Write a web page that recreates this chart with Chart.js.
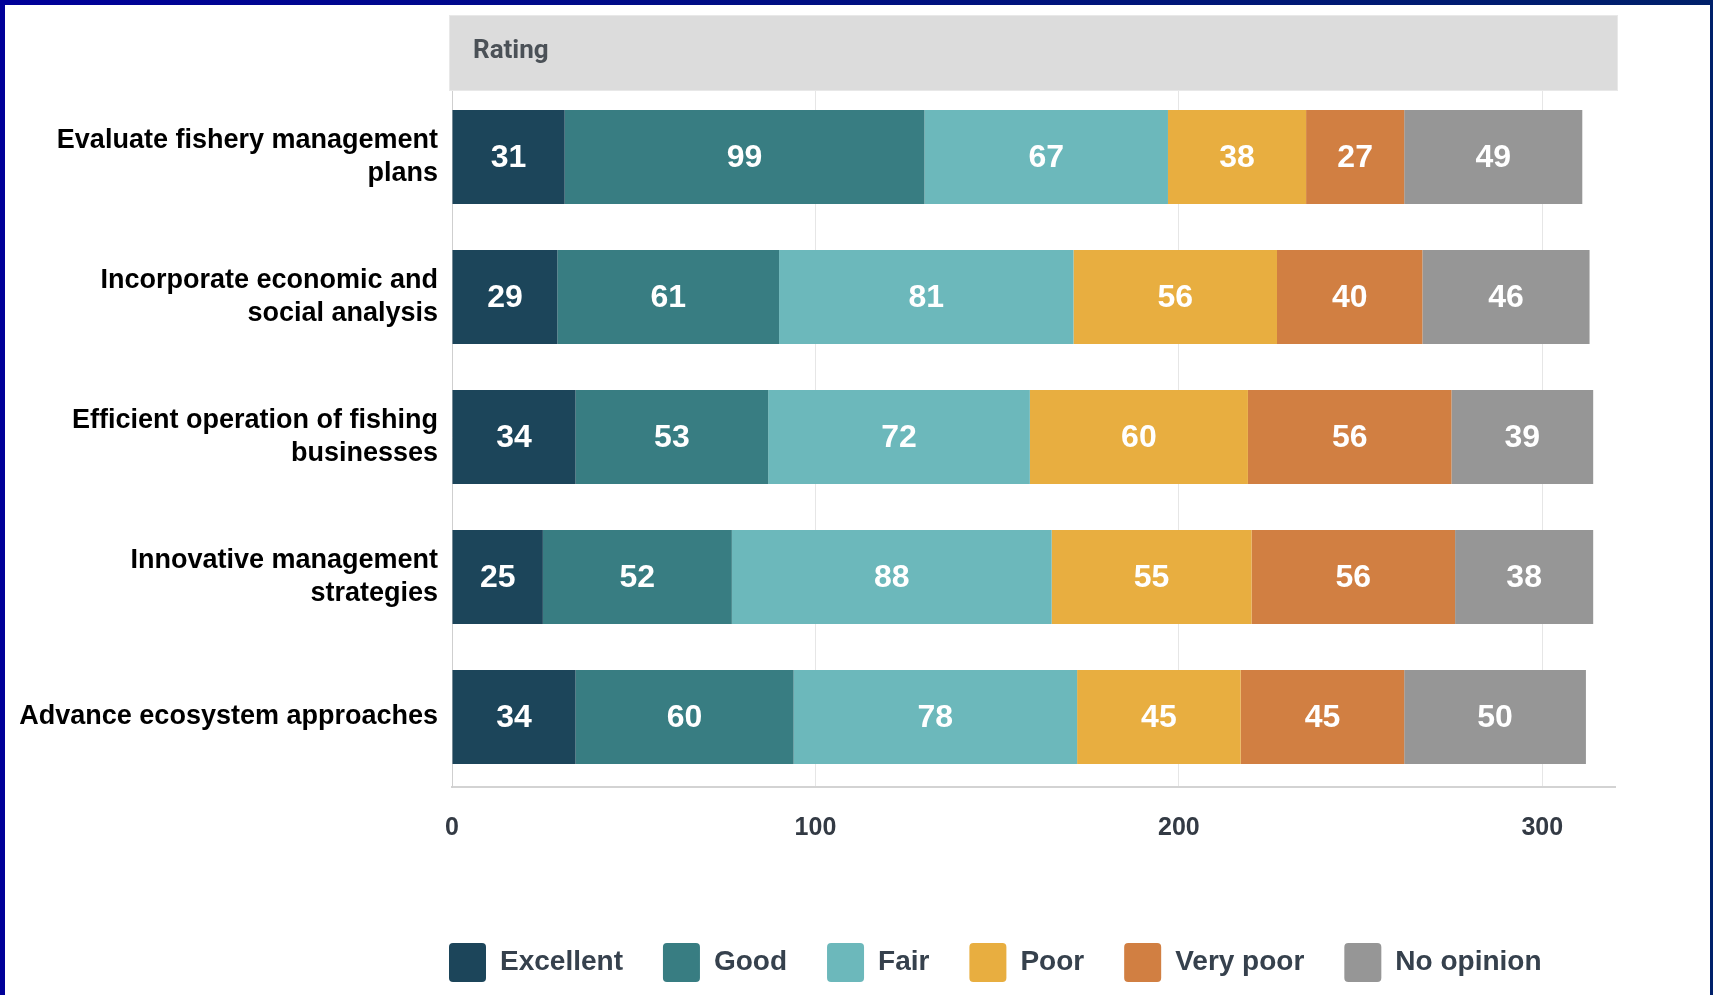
<!DOCTYPE html>
<html>
<head>
<meta charset="utf-8">
<script src="https://cdn.jsdelivr.net/npm/chart.js@4.4.1/dist/chart.umd.min.js"></script>
<style>
  html, body { margin: 0; padding: 0; background: #fff; overflow: hidden; }
  #wrap { position: relative; width: 1713px; height: 995px; }
  #frame {
    position: absolute; inset: 0; box-sizing: border-box; pointer-events: none;
    border-style: solid; border-width: 5px 3px 0 5px;
    border-image: linear-gradient(to right, #000099, #00206a) 1;
  }
  canvas { display: block; }
</style>
</head>
<body>
<div id="wrap">
  <canvas id="ratingChart" width="1713" height="995"></canvas>
  <div id="frame"></div>
</div>
<script>
const categories = [
    ['Evaluate fishery management', 'plans'],
    ['Incorporate economic and', 'social analysis'],
    ['Efficient operation of fishing', 'businesses'],
    ['Innovative management', 'strategies'],
    ['Advance ecosystem approaches']
];
const ratingLabels = ['Excellent', 'Good', 'Fair', 'Poor', 'Very poor', 'No opinion'];
const excellent = [31, 29, 34, 25, 34];
const good = [99, 61, 53, 52, 60];
const fair = [67, 81, 72, 88, 78];
const poor = [38, 56, 60, 55, 45];
const veryPoor = [27, 40, 56, 56, 45];
const noOpinion = [49, 46, 39, 38, 50];
const xTicks = [0, 100, 200, 300];
const headerText = 'Rating';

const COLORS = ['#1c455a', '#387d82', '#6cb8bb', '#e8ae40', '#d17f42', '#969696'];
const seriesValues = [excellent, good, fair, poor, veryPoor, noOpinion];

// grey "Rating" band above the bars
const headerBand = {
    id: 'headerBand',
    beforeDatasetsDraw(chart) {
        const {ctx, chartArea} = chart;
        ctx.save();
        ctx.fillStyle = '#dcdcdc';
        ctx.fillRect(chartArea.left - 2, 16, chartArea.right - chartArea.left + 4, 74);
        ctx.strokeStyle = '#e8e8e8';
        ctx.lineWidth = 1;
        ctx.strokeRect(chartArea.left - 2.5, 15.5, chartArea.right - chartArea.left + 5, 75);
        ctx.fillStyle = '#4b5157';
        ctx.font = 'bold 26px Roboto';
        ctx.textBaseline = 'middle';
        ctx.fillText(headerText, chartArea.left + 21, 51);
        ctx.restore();
    }
};

// white numbers in the middle of each segment
const segmentLabels = {
    id: 'segmentLabels',
    afterDatasetsDraw(chart) {
        const {ctx} = chart;
        ctx.save();
        ctx.fillStyle = '#fff';
        ctx.font = 'bold 32px "Liberation Sans", Arial, sans-serif';
        ctx.textAlign = 'center';
        ctx.textBaseline = 'middle';
        chart.data.datasets.forEach((ds, i) => {
            chart.getDatasetMeta(i).data.forEach((bar, j) => {
                const p = bar.getCenterPoint();
                ctx.fillText(ds.data[j], p.x, p.y + 1);
            });
        });
        ctx.restore();
    }
};

// line the legend up with the left edge of the plot
const legendPlacement = {
    id: 'legendPlacement',
    afterLayout(chart) {
        const lg = chart.legend;
        const pad = lg.options.labels.padding;
        const w = lg.width, h = lg.height;
        lg.left = chart.chartArea.left - 3 - pad;
        lg.right = lg.left + w;
        lg.top = 943 - pad;
        lg.bottom = lg.top + h;
    }
};

new Chart(document.getElementById('ratingChart'), {
    type: 'bar',
    data: {
        labels: categories,
        datasets: ratingLabels.map((name, i) => ({
            label: name,
            data: seriesValues[i],
            backgroundColor: COLORS[i],
            borderWidth: 0,
            barPercentage: 0.672,
            categoryPercentage: 1
        }))
    },
    plugins: [headerBand, segmentLabels, legendPlacement],
    options: {
        indexAxis: 'y',
        responsive: false,
        animation: false,
        layout: {
            padding: { top: 87, right: 98, bottom: 29, left: 0 }
        },
        scales: {
            x: {
                stacked: true,
                min: 0,
                max: 320,
                afterBuildTicks: (scale) => {
                    scale.ticks = xTicks.map(v => ({ value: v }));
                },
                afterFit: (scale) => { scale.height = 90; },
                grid: {
                    color: '#e6e6e6',
                    lineWidth: 1,
                    drawTicks: false
                },
                border: { display: true, color: '#d3d3d3', width: 2 },
                ticks: {
                    padding: 26,
                    color: '#333a44',
                    font: { family: '"Liberation Sans", Arial, sans-serif', size: 25, weight: 'bold' }
                }
            },
            y: {
                stacked: true,
                afterFit: (scale) => { scale.width = 452; },
                grid: { display: false, drawTicks: false },
                border: { display: true, color: '#cfcfcf', width: 1 },
                ticks: {
                    padding: 14,
                    color: '#000',
                    font: { family: '"Liberation Sans", Arial, sans-serif', size: 27, weight: 'bold', lineHeight: 1.24 }
                }
            }
        },
        plugins: {
            legend: {
                position: 'bottom',
                align: 'start',
                labels: {
                    boxWidth: 37,
                    boxHeight: 39,
                    useBorderRadius: true,
                    borderRadius: 4,
                    padding: 40,
                    color: '#36414d',
                    font: { family: '"Liberation Sans", Arial, sans-serif', size: 28, weight: 'bold' }
                }
            },
            tooltip: { enabled: false }
        }
    }
});
</script>
</body>
</html>
